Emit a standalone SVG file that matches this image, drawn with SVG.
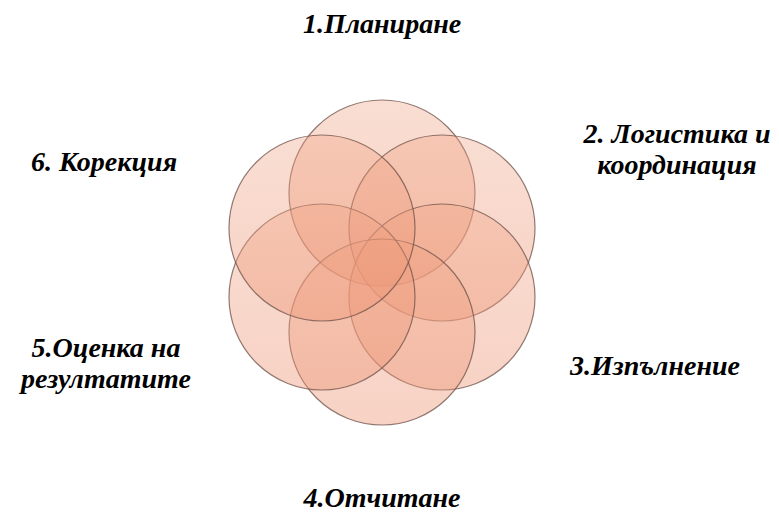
<svg xmlns="http://www.w3.org/2000/svg" width="779" height="513" viewBox="0 0 779 513">
<defs>
<linearGradient id="g" x1="0" y1="0" x2="0" y2="1">
<stop offset="0" stop-color="#f0a282" stop-opacity="0.36"/>
<stop offset="1" stop-color="#ec9474" stop-opacity="0.42"/>
</linearGradient>
</defs>
<style>
.c{fill:url(#g);stroke:#6e5048;stroke-opacity:0.75;stroke-width:1.2}
.t{font-family:"Liberation Serif","Times New Roman",serif;font-weight:bold;font-style:italic;font-size:28px;fill:#000;text-anchor:middle}
</style>
<rect width="779" height="513" fill="#fff"/>
<g id="circles">
<g id="n1"><circle class="c" cx="382" cy="193" r="93"/></g>
<g id="n2"><circle class="c" cx="442" cy="228" r="93"/></g>
<g id="n3"><circle class="c" cx="442" cy="297" r="93"/></g>
<g id="n4"><circle class="c" cx="382" cy="332" r="93"/></g>
<g id="n5"><circle class="c" cx="322" cy="297" r="93"/></g>
<g id="n6"><circle class="c" cx="322" cy="228" r="93"/></g>
</g>
<g id="labels">
<g id="l1"><text class="t" x="382" y="33">1.Планиране</text></g>
<g id="l2"><text class="t" x="677" y="143">2. Логистика и</text><text class="t" x="677" y="174">координация</text></g>
<g id="l3"><text class="t" x="655" y="375">3.Изпълнение</text></g>
<g id="l4"><text class="t" x="382" y="507">4.Отчитане</text></g>
<g id="l5"><text class="t" x="106" y="357">5.Оценка на</text><text class="t" x="106" y="388">резултатите</text></g>
<g id="l6"><text class="t" x="104" y="171">6. Корекция</text></g>
</g>
<g id="connectors"/>
</svg>
